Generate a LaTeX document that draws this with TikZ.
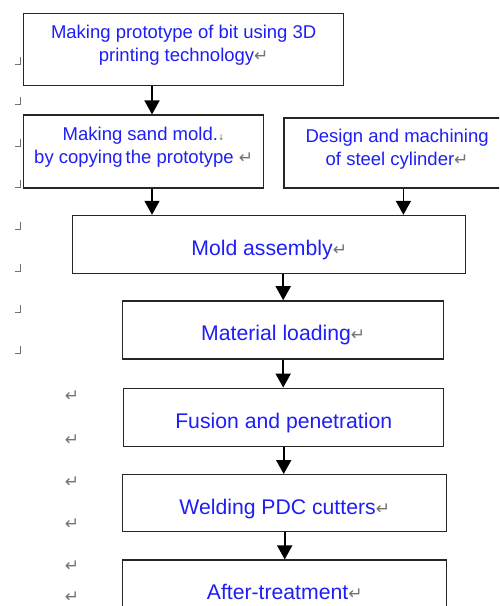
\documentclass[tikz,border=0pt]{standalone}
\usepackage{fontspec}
\setmainfont{Liberation Sans}
\newfontfamily\markfont{DejaVu Sans}
\definecolor{StepBlue}{RGB}{30,30,245}
\definecolor{MarkGray}{RGB}{115,115,115}
\usetikzlibrary{arrows.meta,positioning}
\newcommand{\smalltxt}{\fontsize{18.5}{23}\selectfont}
\newcommand{\bigtxt}{\fontsize{21.2}{26}\selectfont}
\newcommand{\retmark}{{\markfont\color{MarkGray}\fontsize{17}{17}\selectfont ↵}}
\newcommand{\brkmark}{{\markfont\color{MarkGray}\fontsize{8}{8}\selectfont ↓}}

\begin{document}
\begin{tikzpicture}[
    x=1pt, y=1pt,
    stepbox/.style={rectangle, draw=black!85, line width=1.4pt, fill=white,
      text=StepBlue, align=center, inner sep=0pt},
    twoline/.style={stepbox, font=\smalltxt, text height=24pt, text depth=0pt},
    oneline/.style={stepbox, font=\bigtxt, minimum height=58pt, text height=22pt, text depth=0pt},
    arrow/.style={-{Triangle[width=15pt,length=14pt]}, line width=1.8pt},
    markline/.style={MarkGray, line width=0.8pt}
  ]
    \path[use as bounding box] (0,0) rectangle (499,-606);
    \clip (0,0) rectangle (499,-606);

    % first row: prototype, then sand mold and steel cylinder side by side
    \node[twoline, minimum width=320pt, minimum height=72pt, anchor=north west] (proto) at (23,-13)
      {Making prototype of bit using 3D\\printing technology\retmark};
    \node[twoline, minimum width=240pt, minimum height=73pt, below=28pt of proto.south west, anchor=north west] (sand)
      {Making sand mold.\brkmark\\by copying\,the prototype \retmark};
    \node[twoline, minimum width=226pt, minimum height=70pt, right=19pt of sand.north east, anchor=north west, yshift=-3pt] (steel)
      {Design and machining\\of steel cylinder\retmark};

    % main chain
    \node[oneline, minimum width=393pt, below=26pt of sand.south west, anchor=north west, xshift=49pt] (mold) {Mold assembly\retmark};
    \node[oneline, minimum width=321pt, below=26pt of mold.south west, anchor=north west, xshift=50pt] (material) {Material loading\retmark};
    \node[oneline, minimum width=320pt, below=28pt of material.south west, anchor=north west, xshift=1pt] (fusion) {Fusion and penetration};
    \node[oneline, minimum width=324pt, minimum height=57pt, below=27pt of fusion.south west, anchor=north west, xshift=-1pt] (welding) {Welding PDC cutters\retmark};
    \node[oneline, minimum width=324pt, minimum height=57pt, below=27pt of welding.south west, anchor=north west] (after) {After-treatment\retmark};

    \coordinate (sandin) at ([xshift=129pt]sand.north west);
    \coordinate (steelout) at ([xshift=120pt]steel.south west);

    \draw[arrow] (proto.south -| sandin) -- (sandin);
    \draw[arrow] (sandin |- sand.south) -- (sandin |- mold.north);
    \draw[arrow] (steelout) -- (steelout |- mold.north);
    \draw[arrow] (material.north |- mold.south) -- (material.north);
    \draw[arrow] (material.south) -- (material.south |- fusion.north);
    \draw[arrow] (fusion.south) -- (fusion.south |- welding.north);
    \draw[arrow] (welding.south) -- (welding.south |- after.north);

    % paragraph marks in the margin
    \foreach \y in {64,104,146,187,229,271,312,353}
      \draw[markline] (15,-\y) -- (20,-\y) -- (20,-\y+7);
    \foreach \y [count=\i] in {396,440,482,524,566,597}
      \node[inner sep=0pt] (ret\i) at (72,-\y) {\retmark};
  \end{tikzpicture}
\end{document}
